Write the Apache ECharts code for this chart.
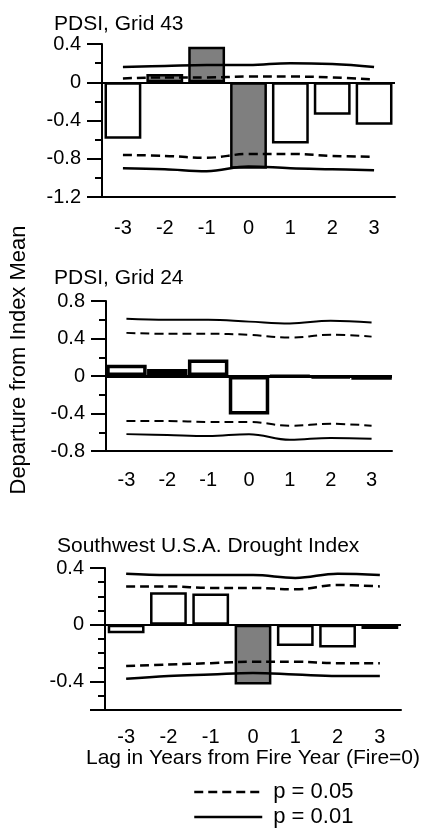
<!DOCTYPE html>
<html>
<head>
<meta charset="utf-8">
<script src="https://cdn.jsdelivr.net/npm/echarts@6/dist/echarts.min.js"></script>
<style>
  html, body { margin: 0; padding: 0; background: #fff; }
  #chart { width: 430px; height: 828px; }
</style>
</head>
<body>
<div id="chart"></div>
<script>
var lags = ['-3', '-2', '-1', '0', '1', '2', '3'];

// PDSI, Grid 43
var grid43 = [-0.59, 0.085, 0.37, -0.905, -0.64, -0.34, -0.445];
var hi01_43 = [0.16, 0.17, 0.18, 0.18, 0.20, 0.19, 0.16];
var hi05_43 = [0.04, 0.05, 0.05, 0.06, 0.06, 0.05, 0.03];
var lo05_43 = [-0.76, -0.77, -0.79, -0.75, -0.75, -0.77, -0.78];
var lo01_43 = [-0.90, -0.91, -0.93, -0.88, -0.90, -0.91, -0.92];

// PDSI, Grid 24
var grid24 = [0.12, 0.075, 0.175, -0.41, -0.005, -0.02, -0.04];
var hi01_24 = [0.61, 0.60, 0.60, 0.58, 0.56, 0.59, 0.57];
var hi05_24 = [0.46, 0.45, 0.45, 0.44, 0.41, 0.44, 0.42];
var lo05_24 = [-0.48, -0.48, -0.49, -0.49, -0.53, -0.51, -0.53];
var lo01_24 = [-0.62, -0.63, -0.64, -0.62, -0.68, -0.66, -0.67];

// Southwest U.S.A. Drought Index
var swdi = [-0.06, 0.23, 0.22, -0.42, -0.15, -0.16, -0.03];
var hi01_sw = [0.36, 0.35, 0.35, 0.35, 0.33, 0.36, 0.35];
var hi05_sw = [0.27, 0.27, 0.26, 0.26, 0.25, 0.28, 0.27];
var lo05_sw = [-0.29, -0.28, -0.27, -0.26, -0.26, -0.27, -0.27];
var lo01_sw = [-0.38, -0.36, -0.35, -0.34, -0.35, -0.36, -0.36];

var swLabels = [-0.4, 0, 0.4];
var swTicks = [-0.6, -0.4, 0, 0.4];

var FONT = 'Liberation Sans, Arial, sans-serif';

var chart = echarts.init(document.getElementById('chart'));

// bars beyond the p = 0.05 band are shaded grey
function barData(vals, hi, lo) {
    return vals.map(function (v, i) {
        var sig = v > hi[i] || v < lo[i];
        return { value: v, itemStyle: { color: sig ? '#7f7f7f' : '#fff' } };
    });
}

function bandLine(idx, name, vals, dashed, width) {
    return {
        type: 'line',
        name: name,
        xAxisIndex: idx,
        yAxisIndex: idx,
        data: vals,
        smooth: 0.4,
        symbol: 'none',
        silent: true,
        itemStyle: { color: '#000' },
        lineStyle: { color: '#000', width: width, type: dashed ? [9, 5] : 'solid' },
        z: 3
    };
}

function panelSeries(idx, vals, hi01, hi05, lo05, lo01, opts) {
    return [
        {
            type: 'bar',
            xAxisIndex: idx,
            yAxisIndex: idx,
            data: barData(vals, hi05, lo05),
            barWidth: opts.barWidth,
            itemStyle: { borderColor: '#000', borderWidth: opts.border },
            silent: true,
            z: 2,
            markLine: {
                silent: true,
                symbol: 'none',
                label: { show: false },
                lineStyle: { color: '#000', type: 'solid', width: opts.zero },
                data: [{ yAxis: 0 }]
            }
        },
        bandLine(idx, 'p = 0.01', hi01, false, opts.line),
        bandLine(idx, 'p = 0.05', hi05, true, opts.line),
        bandLine(idx, 'p = 0.05', lo05, true, opts.line),
        bandLine(idx, 'p = 0.01', lo01, false, opts.line)
    ];
}

function xAx(idx, margin, extra) {
    var ax = {
        type: 'category',
        gridIndex: idx,
        data: lags,
        boundaryGap: true,
        axisLine: { onZero: false, lineStyle: { color: '#000', width: 2 } },
        axisTick: { alignWithLabel: true, length: 15, lineStyle: { color: '#000', width: 2 } },
        axisLabel: { color: '#000', fontSize: 20, fontFamily: FONT, margin: margin },
        splitLine: { show: false }
    };
    for (var k in extra) ax[k] = extra[k];
    return ax;
}

function yAx(idx, min, max, extra) {
    var ax = {
        type: 'value',
        gridIndex: idx,
        min: min,
        max: max,
        interval: 0.4,
        axisLine: { show: true, lineStyle: { color: '#000', width: 2 } },
        axisTick: { show: true, length: 15, lineStyle: { color: '#000', width: 2 } },
        minorTick: { show: true, splitNumber: 2, length: 7, lineStyle: { color: '#000', width: 2 } },
        axisLabel: {
            color: '#000', fontSize: 20, fontFamily: FONT, margin: 21,
            formatter: function (v) { return Math.abs(v) < 1e-9 ? '0' : v.toFixed(1); }
        },
        splitLine: { show: false }
    };
    for (var k in extra) ax[k] = extra[k];
    return ax;
}

function legendItem(name, top) {
    return {
        orient: 'vertical',
        left: 188,
        top: top,
        itemWidth: 68,
        itemHeight: 14,
        selectedMode: false,
        itemStyle: { opacity: 0 },
        lineStyle: { width: 2.5 },
        textStyle: { fontSize: 22, color: '#000', fontFamily: FONT, padding: [0, 0, 0, 6] },
        data: [name]
    };
}

var option = {
    animation: false,
    backgroundColor: '#fff',
    title: [
        { text: 'PDSI, Grid 43', left: 49, top: 9, textStyle: { fontSize: 21, fontWeight: 'normal', color: '#000', fontFamily: FONT } },
        { text: 'PDSI, Grid 24', left: 49, top: 263, textStyle: { fontSize: 21, fontWeight: 'normal', color: '#000', fontFamily: FONT } },
        { text: 'Southwest U.S.A. Drought Index', left: 52, top: 531, textStyle: { fontSize: 21, fontWeight: 'normal', color: '#000', fontFamily: FONT } }
    ],
    legend: [
        legendItem('p = 0.05', 776),
        legendItem('p = 0.01', 801)
    ],
    graphic: [{
        type: 'text',
        x: 19,
        y: 360,
        rotation: Math.PI / 2,
        style: {
            text: 'Departure from Index Mean',
            fontSize: 22,
            fontFamily: FONT,
            fill: '#000',
            align: 'center',
            verticalAlign: 'middle'
        }
    }],
    grid: [
        { left: 102, right: 35, top: 44, height: 153 },
        { left: 106, right: 38, top: 301, height: 150 },
        { left: 105, right: 29, top: 568, height: 142 }
    ],
    xAxis: [
        xAx(0, 21, {}),
        xAx(1, 19, {}),
        xAx(2, 17, {
            name: 'Lag in Years from Fire Year (Fire=0)',
            nameLocation: 'middle',
            nameGap: 38,
            nameTextStyle: { fontSize: 21, color: '#000', fontFamily: FONT }
        })
    ],
    yAxis: [
        yAx(0, -1.2, 0.4, {}),
        yAx(1, -0.8, 0.8, {}),
        // minor ticks every 0.1 for the drought index panel
        {
            type: 'value', gridIndex: 2, min: -0.6, max: 0.4, interval: 0.1,
            axisLine: { show: true, lineStyle: { color: '#000', width: 2 } },
            axisTick: { show: true, length: 7, lineStyle: { color: '#000', width: 2 } },
            axisLabel: { show: false },
            splitLine: { show: false }
        },
        {
            type: 'value', gridIndex: 2, min: -0.6, max: 0.4, position: 'left', offset: 0,
            axisLine: { show: false },
            axisTick: { show: true, length: 15, customValues: swTicks, lineStyle: { color: '#000', width: 2 } },
            axisLabel: {
                color: '#000', fontSize: 20, fontFamily: FONT, margin: 21,
                customValues: swLabels,
                formatter: function (v) { return Math.abs(v) < 1e-9 ? '0' : v.toFixed(1); }
            },
            splitLine: { show: false }
        }
    ],
    series: []
        .concat(panelSeries(0, grid43, hi01_43, hi05_43, lo05_43, lo01_43, { barWidth: '88%', border: 2.5, zero: 2, line: 2.5 }))
        .concat(panelSeries(1, grid24, hi01_24, hi05_24, lo05_24, lo01_24, { barWidth: '99%', border: 3.5, zero: 3, line: 2 }))
        .concat(panelSeries(2, swdi, hi01_sw, hi05_sw, lo05_sw, lo01_sw, { barWidth: '87%', border: 2.5, zero: 2, line: 2.5 }))
};

chart.setOption(option);
</script>
</body>
</html>
